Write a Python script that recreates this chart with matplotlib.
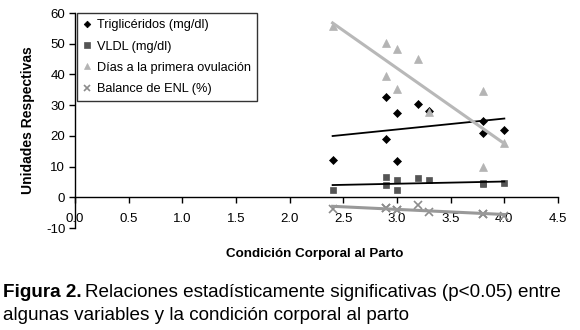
import numpy as np
import matplotlib
matplotlib.use("Agg")
from matplotlib import pyplot as plt

plt.rcParams['font.family'] = ['Liberation Sans', 'DejaVu Sans']
plt.rcParams['axes.unicode_minus'] = False

# condicion corporal al parto (x) for each animal
cc = [2.4, 2.9, 2.9, 3.0, 3.0, 3.2, 3.3, 3.8, 3.8, 4.0]
trigliceridos = [12.0, 32.7, 19.0, 27.6, 11.7, 30.3, 28.0, 24.8, 21.0, 22.0]
vldl = [2.3, 6.6, 3.9, 5.5, 2.3, 6.3, 5.5, 4.8, 4.2, 4.5]
dias_ovulacion = [55.8, 50.1, 39.6, 48.2, 35.2, 45.0, 27.8, 34.6, 9.9, 17.7]
balance_enl = [-3.7, -3.4, -3.6, -4.0, -4.2, -2.6, -4.8, -5.3, -5.5, -6.0]

labels = ['Triglicéridos (mg/dl)', 'VLDL (mg/dl)',
          'Días a la primera ovulación', 'Balance de ENL (%)']

fig = plt.figure(figsize=(5.8, 3.3), dpi=100)
ax = fig.add_axes([0.1293, 0.309, 0.8328, 0.6515])

series = [
    (trigliceridos, 'D', 'black', 4.5, 'black', 1.3),
    (vldl, 's', '#555555', 5, 'black', 1.3),
    (dias_ovulacion, '^', '#b4b4b4', 6, '#b8b8b8', 2.2),
    (balance_enl, 'x', '#8c8c8c', 5.5, '#999999', 2.2),
]

x = np.array(cc)
for (vals, mk, col, ms, lcol, lw), lab in zip(series, labels):
    ax.plot(x, vals, linestyle='none', marker=mk, color=col, markersize=ms,
            markeredgewidth=1.2 if mk == 'x' else 0.5, label=lab)
    m, b = np.polyfit(x, vals, 1)
    xx = np.array([x.min(), x.max()])
    ax.plot(xx, m * xx + b, color=lcol, linewidth=lw)

ax.set_xlim(0, 4.5)
ax.set_ylim(-10, 60)
ax.set_xticks(np.arange(0, 4.51, 0.5))
ax.set_xticklabels(['%.1f' % v for v in np.arange(0, 4.51, 0.5)])
ax.set_yticks(range(-10, 61, 10))

ax.spines['top'].set_visible(False)
ax.spines['right'].set_visible(False)
ax.spines['bottom'].set_position(('data', 0))
ax.spines['left'].set_linewidth(1.0)
ax.spines['bottom'].set_linewidth(1.0)
ax.tick_params(axis='x', direction='out', length=4, width=1.0, pad=7, labelsize=9.5)
ax.tick_params(axis='y', direction='out', length=4, width=1.0, pad=3, labelsize=9.5)

ax.set_ylabel('Unidades Respectivas', fontsize=10, fontweight='bold')
ax.yaxis.set_label_coords(-0.083, 0.5)

leg = ax.legend(loc='upper left', bbox_to_anchor=(0.004, 1.0), borderaxespad=0,
                fontsize=9.2, frameon=True, fancybox=False, edgecolor='black',
                handlelength=0.6, handletextpad=0.45, labelspacing=0.72,
                markerscale=0.75, borderpad=0.5)
leg.get_frame().set_linewidth(1.0)

fig.text(0.543, 0.221, 'Condición Corporal al Parto', fontsize=9.6,
         fontweight='bold', ha='center', va='baseline')

t1 = fig.text(0.005, 0.101, 'Figura 2.', fontsize=13.6, fontweight='bold',
              va='baseline')
fig.canvas.draw()
bb = t1.get_window_extent(renderer=fig.canvas.get_renderer())
x0 = bb.x1 / fig.bbox.width + 0.006
fig.text(x0, 0.101,
         'Relaciones estadísticamente significativas (p<0.05) entre',
         fontsize=13.6, va='baseline')
fig.text(0.005, 0.030, 'algunas variables y la condición corporal al parto',
         fontsize=13.6, va='baseline')

fig.savefig('out.png', dpi=100)
